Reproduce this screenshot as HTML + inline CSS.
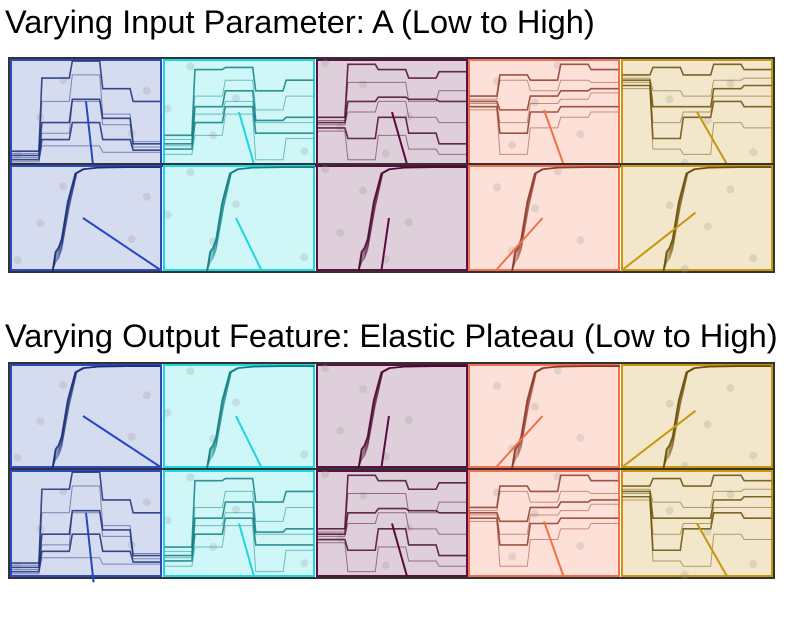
<!DOCTYPE html>
<html><head><meta charset="utf-8"><style>
body{margin:0;background:#fff;width:811px;height:630px;overflow:hidden;font-family:"Liberation Sans",sans-serif}
.t{position:absolute;left:5px;font-size:32.6px;color:#000;white-space:nowrap;line-height:1}
svg{position:absolute;left:0;top:0}
</style></head><body>
<div class="t" style="top:6px">Varying Input Parameter: A (Low to High)</div>
<div class="t" style="top:320px">Varying Output Feature: Elastic Plateau (Low to High)</div>
<svg id="fig" width="811" height="630"></svg>
<script>
// Colour groups (low to high)
const groups = ['blue','cyan','maroon','salmon','gold'];
// Step-plot trajectory levels (0 = top, 1 = bottom) per segment
const stepBlue   = [[0.87,0.89,0.91,0.93,0.95,0.97],[0.18,0.4,0.6,0.7,0.76,0.82],[0.02,0.15,0.38,0.4,0.6,0.82],[0.28,0.52,0.56,0.62,0.76,0.88],[0.4,0.78,0.8,0.83,0.86,0.88]];
const stepCyan   = [[0.72,0.76,0.8,0.82,0.85,0.9],[0.1,0.35,0.45,0.52,0.6,0.72],[0.08,0.2,0.3,0.4,0.45,0.52],[0.3,0.48,0.58,0.6,0.7,0.95],[0.2,0.35,0.55,0.6,0.7,0.75]];
const stepMaroon = [[0.55,0.58,0.6,0.62,0.65,0.68],[0.05,0.22,0.4,0.5,0.75,0.95],[0.1,0.22,0.36,0.4,0.55,0.72],[0.18,0.4,0.38,0.55,0.7,0.85],[0.12,0.3,0.4,0.6,0.8,0.9]];
const stepSalmon = [[0.35,0.38,0.4,0.42,0.45,0.48],[0.15,0.2,0.48,0.6,0.7,0.9],[0.2,0.3,0.35,0.42,0.5,0.65],[0.05,0.2,0.3,0.38,0.45,0.55],[0.1,0.22,0.28,0.32,0.45,0.5]];
const stepGold   = [[0.15,0.18,0.2,0.22,0.25,0.28],[0.08,0.3,0.45,0.6,0.75,0.85],[0.15,0.35,0.45,0.5,0.55,0.9],[0.05,0.2,0.28,0.35,0.4,0.6],[0.1,0.18,0.25,0.35,0.45,0.65]];
const stepData = [stepBlue, stepCyan, stepMaroon, stepSalmon, stepGold];
// Sigmoid curve shape (x fraction after rise start, y fraction from top)
const curveShapeX = [0, 0.02, 0.04, 0.06, 0.1, 0.15, 0.2, 0.3, 0.5, 0.7];
const curveShapeY = [1.0, 0.82, 0.78, 0.7, 0.35, 0.08, 0.04, 0.025, 0.02, 0.02];
const riseStart = [0.28, 0.29, 0.28, 0.29, 0.28];
const curveSpread = [0.0, 0.02, 0.04, 0.06, 0.08, 0.1];
// Accent line endpoints [x1,y1,x2,y2] normalized
const accentStep  = [[0.5,0.4,0.55,1.05],[0.5,0.5,0.6,1.0],[0.5,0.5,0.6,1.0],[0.5,0.48,0.63,1.0],[0.5,0.5,0.7,1.0]];
const accentCurve = [[0.48,0.5,1.0,1.0],[0.48,0.5,0.65,1.0],[0.48,0.5,0.43,1.0],[0.49,0.5,0.18,1.0],[0.49,0.45,0.0,1.0]];
// Faint grey scatter dots
const dotsX = [0.05,0.35,0.8,0.9,0.2];
const dotsY = [0.9,0.2,0.7,0.3,0.55];

const bg = ['#d6dcf0','#cff7f8','#dfcfda','#fde0d8','#f2e7cb'];
const bd = ['#2c4bc0','#1bd8e2','#5a1040','#f27050','#c9960e'];
const ln = ['#1a2e78','#107f84','#4a0a30','#8e3a28','#6b4e08'];
const accent = ['#2448c0','#1fd6e0','#5a0a3c','#f2704a','#c8960e'];

const svg = document.getElementById('fig');
const NS = 'http://www.w3.org/2000/svg';
const colX = [10,163,316,468,621];
const PW = 152;
function mk(tag, attrs){const e=document.createElementNS(NS,tag);for(const k in attrs)e.setAttribute(k,attrs[k]);return e;}

function panel(x, y, h, type, gi){
  const grp = mk('g',{});
  
  
  svg.appendChild(grp);
  const cx0 = v => Math.max(0, Math.min(1, v));
  const sx = v => x + cx0(v)*PW, sy = v => y + v*h;
  const r = mk('rect',{x:x+1,y:y+1,width:PW-2,height:h-2,fill:bg[gi],stroke:bd[gi],'stroke-width':2});
  grp.appendChild(r);
  dotsX.forEach((dx,i)=>{
    const c = mk('circle',{cx:sx((dx+gi*0.13)%1),cy:sy((dotsY[i]+gi*0.17)%1),r:4,fill:'#999','fill-opacity':0.25});
    
    
    grp.appendChild(c);
  });
  if(type==='step'){
    const d = stepData[gi], nseg = d.length, sw = 1/nseg;
    for(let t=0;t<d[0].length;t++){
      let p='';
      for(let s=0;s<nseg;s++){
        const x0=sx(s*sw+0.01), x1=sx((s+1)*sw-0.01), yy=sy(d[s][t]);
        p += (s===0?'M':'L')+x0+' '+yy+' L'+x1+' '+yy+' ';
      }
      const path = mk('path',{d:p,fill:'none',stroke:ln[gi],'stroke-width':t%2?1:1.6,'stroke-opacity':t%2?0.5:0.85});
      
      
      grp.appendChild(path);
    }
    const a = accentStep[gi];
    const l = mk('line',{x1:sx(a[0]),y1:sy(a[1]),x2:sx(a[2]),y2:sy(a[3]),stroke:accent[gi],'stroke-width':2});
    
    
    grp.appendChild(l);
  } else {
    curveSpread.forEach((sp,k)=>{
      let p='';
      curveShapeX.forEach((cx,i)=>{
        let yv = curveShapeY[i];
        if(i>=1 && i<=4) yv = Math.min(1, yv + sp*(i===4?0.5:1));
        p += (i?'L':'M')+sx(riseStart[gi]+cx+(i>=4?sp*0.1:0))+' '+sy(yv)+' ';
      });
      p += 'L'+(x+PW-2)+' '+sy(0.02);
      const path = mk('path',{d:p,fill:'none',stroke:ln[gi],'stroke-width':k===0?1.8:1,'stroke-opacity':k===0?0.9:0.55,'stroke-linejoin':'round'});
      
      
      grp.appendChild(path);
    });
    const a = accentCurve[gi];
    const l = mk('line',{x1:sx(a[0]),y1:sy(a[1]),x2:sx(a[2]),y2:sy(a[3]),stroke:accent[gi],'stroke-width':2});
    
    
    grp.appendChild(l);
  }
}
const rows = [[59,106,'step'],[165,106,'curve'],[364,104,'curve'],[470,107,'step']];
rows.forEach(rw=>{
  const frame = mk('rect',{x:9,y:rw[0]-1,width:765,height:rw[1]+2,fill:'none',stroke:'#333','stroke-width':2});
  
  
  svg.appendChild(frame);
  colX.forEach((x,gi)=>panel(x,rw[0],rw[1],rw[2],gi));
});
</script>
</body></html>
